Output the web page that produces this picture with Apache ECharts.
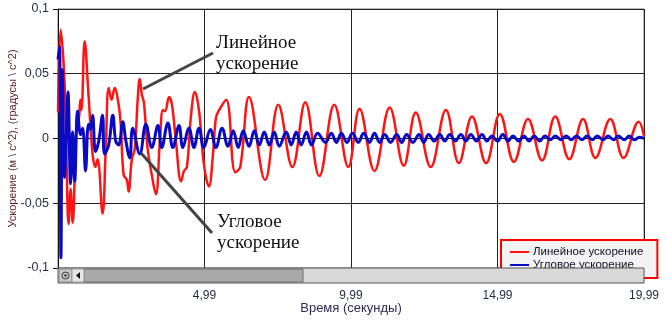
<!DOCTYPE html>
<html lang="ru">
<head>
    <meta charset="UTF-8">
    <title>Ускорение</title>
    <script src="https://cdn.jsdelivr.net/npm/echarts@6/dist/echarts.min.js"></script>
    <style>
        body { margin: 0; background: #fff; }
    </style>
</head>
<body>
 <div id="myChart" style="width: 667px;height: 321px;"></div>
 <script>
     // линейное ускорение: время (с) и значения (м/с^2), точки пиков и перегибов
     var linearT = [0.00, 0.09, 0.22, 0.29, 0.36, 0.43, 0.50, 0.60, 0.67, 0.71, 0.76, 0.80, 0.91, 1.04, 1.18, 1.28, 1.35, 1.52,
         1.63, 1.73, 1.83, 1.93, 2.07, 2.14, 2.24, 2.35, 2.41, 2.52, 2.62, 2.72, 2.79, 2.86, 2.93, 3.06, 3.20, 3.34,
         3.48, 3.58, 3.65, 3.79, 3.89, 4.02, 4.20, 4.30, 4.40, 4.54, 4.67, 4.81, 4.98, 5.15, 5.29, 5.39, 5.50, 5.74,
         6.05, 6.22, 6.52, 7.07, 7.52, 8.00, 8.44, 8.92, 9.43, 9.91, 10.29, 10.80, 11.32, 11.80, 12.21, 12.72, 13.24,
         13.68, 14.13, 14.61, 15.08, 15.56, 16.04, 16.52, 16.97, 17.45, 17.92, 18.34, 18.85, 19.30, 19.82, 20.00];
     var linearV = [0.020, 0.084, 0.045, -0.016, -0.066, -0.039, -0.065, -0.008, 0.018, 0.014, 0.030, 0.022, 0.075, 0.034, -0.012, -0.022, -0.016, -0.058,
         -0.008, 0.039, 0.030, 0.039, 0.026, 0.011, -0.028, -0.032, -0.041, -0.016, -0.008, 0.030, 0.046, 0.034, 0.028, -0.008, -0.028, -0.043,
         -0.001, 0.022, 0.021, 0.032, 0.026, -0.001, -0.033, -0.025, -0.022, 0.018, 0.036, 0.022, -0.020, -0.037, -0.012, 0.016, 0.022, 0.030,
         -0.026, -0.022, 0.032, -0.032, 0.026, -0.022, 0.028, -0.029, 0.026, -0.022, 0.023, -0.025, 0.024, -0.021, 0.020, -0.022, 0.022,
         -0.019, 0.017, -0.019, 0.019, -0.018, 0.015, -0.017, 0.017, -0.016, 0.015, -0.015, 0.015, -0.015, 0.013, 0.002];

     // угловое ускорение: время (с) и значения (градусы/с^2)
     var angularT = [0.00, 0.05, 0.10, 0.15, 0.22, 0.27, 0.34, 0.43, 0.50, 0.57, 0.67, 0.77, 0.84, 0.94, 1.04, 1.11, 1.18, 1.28,
         1.39, 1.52, 1.59, 1.73, 1.87, 1.97, 2.07, 2.21, 2.31, 2.45, 2.55, 2.79, 3.00, 3.20, 3.41, 3.54, 3.75, 3.92,
         4.13, 4.26, 4.47, 4.64, 4.81, 4.98, 5.20, 5.39, 5.60, 5.80, 5.98, 6.15, 6.32, 6.52, 6.70, 6.87, 7.04, 7.21,
         7.38, 7.55, 7.79, 7.96, 8.13, 8.30, 8.48, 8.65, 8.86, 9.13, 9.33, 9.50, 9.67, 9.86, 10.05, 10.25, 10.43, 10.63,
         10.80, 10.98, 11.15, 11.35, 11.56, 11.73, 11.90, 12.11, 12.32, 12.48, 12.65, 12.84, 13.03, 13.20, 13.37, 13.56,
         13.75, 13.92, 14.09, 14.28, 14.47, 14.64, 14.81, 15.00, 15.18, 15.36, 15.53, 15.72, 15.90, 16.08, 16.25, 16.44,
         16.62, 16.80, 16.97, 17.16, 17.35, 17.52, 17.69, 17.88, 18.06, 18.24, 18.40, 18.60, 18.78, 18.96, 19.12, 19.32,
         19.50, 19.67, 19.84, 20.00];
     var angularV = [0.061, 0.071, -0.092, 0.053, -0.030, -0.008, 0.036, -0.035, 0.005, -0.033, 0.021, 0.003, 0.008, -0.025, 0.011, 0.007, 0.018, -0.010,
         -0.002, 0.018, -0.012, -0.005, 0.018, -0.002, -0.005, 0.013, -0.001, -0.015, 0.008, -0.012, 0.011, -0.007, 0.010, -0.007, 0.012, -0.007,
         0.010, -0.007, 0.008, -0.007, 0.008, -0.007, 0.007, -0.007, 0.008, -0.006, 0.006, -0.007, 0.006, -0.006, 0.006, -0.005, 0.005, -0.005,
         0.005, -0.006, 0.005, -0.005, 0.005, -0.005, 0.005, -0.005, 0.004, -0.003, 0.004, -0.003, 0.004, -0.003, 0.004, -0.003, 0.004, -0.003,
         0.004, -0.003, 0.003, -0.003, 0.003, -0.003, 0.003, -0.003, 0.003, -0.003, 0.003, -0.002, 0.003, -0.002, 0.003, -0.002,
         0.003, -0.002, 0.003, -0.002, 0.003, -0.002, 0.002, -0.002, 0.003, -0.002, 0.002, -0.002, 0.002, -0.002, 0.002, -0.002,
         0.002, -0.001, 0.002, -0.001, 0.002, -0.001, 0.002, -0.001, 0.002, -0.001, 0.002, -0.001, 0.002, -0.001, 0.002, -0.001,
         0.002, -0.001, 0.001, 0.000];

     var seriesNames = ['Линейное ускорение', 'Угловое ускорение'];
     var yTicks = [-0.1, -0.05, 0, 0.05, 0.1];

     function zip(t, v) {
         var out = [];
         for (var i = 0; i < t.length; i++) out.push([t[i], v[i]]);
         return out;
     }
     function comma(s) { return String(s).replace('.', ','); }

     var option = {
         backgroundColor: '#fff',
         animation: false,
         grid: {
             left: 58, right: 23, top: 9, bottom: 53,
             outerBoundsMode: 'none',
             show: true, borderColor: '#777', borderWidth: 1
         },
         legend: {
             data: seriesNames,
             orient: 'vertical',
             left: 501, top: 240,
             padding: [6, 14, 7, 8],
             itemGap: 1,
             itemWidth: 19, itemHeight: 12,
             backgroundColor: '#f3f3f3',
             borderColor: '#ff0000', borderWidth: 2,
             itemStyle: { opacity: 0 },
             textStyle: { fontFamily: 'Liberation Sans', fontSize: 11.5, color: '#0e0e22', padding: [0, 0, 0, -1] }
         },
         xAxis: {
             type: 'value',
             min: 0, max: 20, interval: 5,
             offset: 15,
             name: 'Время (секунды)',
             nameLocation: 'middle',
             nameGap: 19,
             nameMoveOverlap: false,
             nameTextStyle: { fontFamily: 'Liberation Sans', fontSize: 13, color: '#2e2a50' },
             axisLine: { lineStyle: { color: '#111', width: 1 } },
             axisTick: { length: 4, lineStyle: { color: '#111' } },
             axisLabel: {
                 fontFamily: 'Liberation Sans', fontSize: 12, color: '#1f2a44', margin: 7,
                 formatter: function (v) { return v === 0 ? '' : comma((v - 0.01).toFixed(2)); }
             },
             splitLine: { show: true, lineStyle: { color: '#222', width: 1 } }
         },
         yAxis: {
             type: 'value',
             min: yTicks[0], max: yTicks[yTicks.length - 1], interval: 0.05,
             name: 'Ускорение (м \\ с^2), (градусы \\ с^2)',
             nameLocation: 'middle',
             nameGap: 40,
             nameMoveOverlap: false,
             nameTextStyle: { fontFamily: 'Liberation Sans', fontSize: 11, color: '#5a1f24' },
             axisLine: { show: true, lineStyle: { color: '#111', width: 1 } },
             axisTick: { show: true, length: 5, lineStyle: { color: '#111' } },
             axisLabel: {
                 fontFamily: 'Liberation Sans', fontSize: 12.5, color: '#1f2a44', margin: 9,
                 formatter: function (v) { return comma(+v.toFixed(2)); }
             },
             splitLine: { show: true, lineStyle: { color: '#222', width: 1 } }
         },
         graphic: [
             // полоса прокрутки под графиком
             { type: 'rect', shape: { x: 58, y: 268, width: 586, height: 15 }, style: { fill: '#d9d9d9', stroke: '#555', lineWidth: 1 }, z: 10 },
             { type: 'rect', shape: { x: 84, y: 269, width: 219, height: 13 }, style: { fill: '#a9a9a9', stroke: '#6a6a6a', lineWidth: 1 }, z: 11 },
             { type: 'rect', shape: { x: 59, y: 269, width: 13, height: 13 }, style: { fill: '#c8c8c8', stroke: '#888', lineWidth: 1 }, z: 11 },
             { type: 'circle', shape: { cx: 65.5, cy: 275.5, r: 3.5 }, style: { fill: 'none', stroke: '#333', lineWidth: 1 }, z: 12 },
             { type: 'circle', shape: { cx: 65.5, cy: 275.5, r: 1.2 }, style: { fill: '#333' }, z: 12 },
             { type: 'rect', shape: { x: 72, y: 269, width: 12, height: 13 }, style: { fill: '#e6e6e6', stroke: '#999', lineWidth: 1 }, z: 11 },
             { type: 'polygon', shape: { points: [[76, 275.5], [80, 272], [80, 279]] }, style: { fill: '#111' }, z: 12 },
             // подписи со стрелками
             { type: 'line', shape: { x1: 143, y1: 89, x2: 213, y2: 53 }, style: { stroke: '#444', lineWidth: 3 }, z: 20 },
             { type: 'line', shape: { x1: 141, y1: 153, x2: 212, y2: 233 }, style: { stroke: '#444', lineWidth: 3 }, z: 20 },
             {
                 type: 'text', x: 216, y: 33, z: 20,
                 style: { text: 'Линейное\nускорение', fontFamily: 'Liberation Serif', fontSize: 19, lineHeight: 21, fill: '#111', verticalAlign: 'top' }
             },
             {
                 type: 'text', x: 217, y: 212, z: 20,
                 style: { text: 'Угловое\nускорение', fontFamily: 'Liberation Serif', fontSize: 19, lineHeight: 21, fill: '#111', verticalAlign: 'top' }
             }
         ],
         series: [
             {
                 name: seriesNames[0],
                 type: 'line',
                 data: zip(linearT, linearV),
                 symbol: 'none',
                 smooth: 0.4,
                 lineStyle: { color: '#ff1414', width: 2.5 },
                 itemStyle: { color: '#ff1414' }
             },
             {
                 name: seriesNames[1],
                 type: 'line',
                 data: zip(angularT, angularV),
                 symbol: 'none',
                 smooth: 0.4,
                 lineStyle: { color: '#0a0ac4', width: 3 },
                 itemStyle: { color: '#0a0ac4' }
             }
         ]
     };
     var myChart = echarts.init(document.getElementById('myChart'));
     myChart.setOption(option);
 </script>
</body>
</html>
